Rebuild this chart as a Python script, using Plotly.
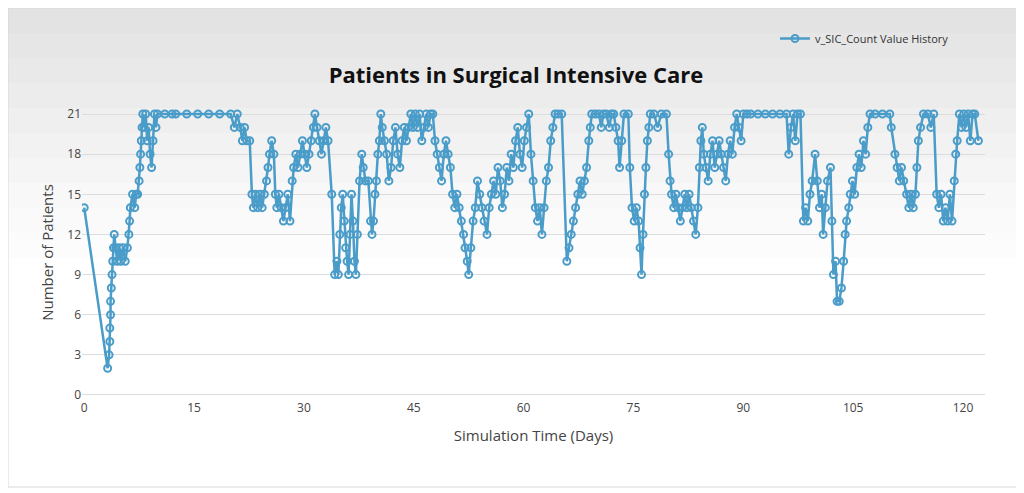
import plotly.graph_objects as go

days = [0, 3.2, 3.4, 3.5, 3.5, 3.6, 3.6, 3.7, 3.8, 3.9, 4.0, 4.1, 4.3, 4.5, 4.8, 5.0, 5.3, 5.6, 5.9,
        6.1, 6.2, 6.3, 6.6, 6.9, 7.1, 7.3, 7.5, 7.6, 7.7, 7.8, 7.9, 8.0, 8.2, 8.4, 8.6, 8.8, 9.0, 9.2,
        9.4, 9.6, 9.8, 10.0, 11, 12, 12.5, 14, 15.5, 17, 18.5, 20, 20.5, 20.9, 21.3, 21.6, 21.9, 22.2,
        22.6, 22.9, 23.1, 23.4, 23.7, 24.0, 24.3, 24.6, 24.9, 25.1, 25.3, 25.6, 25.9, 26.1, 26.3, 26.6,
        26.9, 27.2, 27.5, 27.8, 28.1, 28.4, 28.6, 28.9, 29.2, 29.5, 29.8, 30.1, 30.4, 30.7, 31.0, 31.3,
        31.5, 31.8, 32.1, 32.4, 32.7, 33.0, 33.3, 33.8, 34.2, 34.5, 34.7, 34.9, 35.1, 35.3, 35.5, 35.7,
        35.9, 36.1, 36.3, 36.5, 36.7, 36.9, 37.1, 37.3, 37.6, 37.9, 38.1, 38.4, 38.8, 39.1, 39.3, 39.5,
        39.7, 39.9, 40.1, 40.3, 40.5, 40.7,
        41.0, 41.3, 41.6, 41.9, 42.2, 42.5, 42.8, 43.1, 43.4, 43.7, 44.0, 44.3, 44.6, 44.9, 45.2, 45.5,
        45.8, 46.1, 46.4, 46.7, 47.0, 47.3, 47.6, 47.9, 48.2, 48.5, 48.8, 49.1, 49.4, 49.7, 50.0, 50.3,
        50.6, 50.9, 51.2, 51.5, 51.8, 52.0, 52.3, 52.5, 52.8, 53.1, 53.4, 53.7, 54.0, 54.3, 54.6, 55.0,
        55.3, 55.6, 55.9, 56.2, 56.5, 56.8, 57.1, 57.4, 57.7, 58.0, 58.3, 58.6, 58.9, 59.2, 59.5, 59.8,
        60.1, 60.4, 60.7, 61.0, 61.3, 61.6, 61.9, 62.2, 62.5, 62.8, 63.1, 63.4, 63.7, 64.0, 64.3, 64.7,
        65.2, 65.9, 66.2, 66.5, 66.8, 67.1, 67.4, 67.7, 68.0, 68.3, 68.6, 68.9, 69.1, 69.3, 69.8, 70.3,
        70.6, 70.9, 71.3, 71.7, 72.0, 72.3, 72.6, 72.9, 73.1, 73.4, 73.7, 74.3, 74.5, 74.8, 75.1, 75.4,
        75.7, 75.9, 76.1, 76.3, 76.5, 76.7, 76.9, 77.1, 77.3, 77.8, 78.3, 78.8, 79.5, 79.8, 80.0, 80.2,
        80.5, 80.8, 81.1, 81.4, 81.7, 82.0, 82.3, 82.6, 82.9, 83.2, 83.5, 83.8, 84.0, 84.2, 84.4, 84.6,
        84.9, 85.2, 85.5, 85.8, 86.1, 86.4, 86.7, 87.0, 87.3, 87.6, 87.9, 88.2, 88.5, 88.8, 89.1, 89.4,
        89.7, 90.0, 90.5, 91.0, 92.0, 93.0, 94.0, 95.0, 95.9, 96.2, 96.5, 96.8, 97.1, 97.4, 97.8, 98.2,
        98.5, 98.8, 99.1, 99.4, 99.8, 100.1, 100.4, 100.7, 100.9, 101.2, 101.5, 101.9, 102.1, 102.3,
        102.6, 102.8, 103.1, 103.4, 103.7, 103.9, 104.1, 104.4, 104.6, 104.9, 105.2, 105.5, 105.8,
        106.1, 106.4, 106.7, 107.0, 107.3, 108.0, 109.0, 110.0, 110.2, 110.7, 111.0, 111.3, 111.6,
        111.9, 112.3, 112.6, 112.9, 113.2, 113.5, 113.7, 113.9, 114.2, 114.6, 115.2, 115.6, 116.0,
        116.4, 116.7, 117.0, 117.3, 117.6, 117.9, 118.2, 118.5, 118.8, 119.0, 119.2, 119.5, 119.8,
        120.1, 120.4, 120.7, 121.0, 121.3, 121.6, 122.1]

patients = [14, 2, 3, 4, 5, 6, 7, 8, 9, 10, 11, 12, 11, 10, 11, 10, 11, 10, 11,
            12, 13, 14, 15, 14, 15, 15, 16, 17, 18, 19, 20, 21, 20, 21, 19, 20, 18, 17,
            19, 21, 20, 21, 21, 21, 21, 21, 21, 21, 21, 21, 20, 21, 20, 19, 20, 19,
            19, 15, 14, 15, 14, 15, 14, 15, 16, 17, 18, 19, 18, 15, 14, 15,
            14, 13, 14, 15, 13, 16, 17, 18, 17, 18, 19, 18, 17, 18, 19, 20,
            21, 20, 19, 18, 19, 20, 19, 15, 9, 10, 9, 12, 14, 15, 13, 11,
            10, 9, 12, 15, 13, 10, 9, 12, 16, 18, 17, 16, 16, 13, 12, 13,
            15, 16, 18, 19, 21, 20,
            19, 18, 16, 17, 19, 20, 18, 17, 19, 20, 19, 20, 21, 20, 21, 20,
            21, 19, 20, 21, 20, 21, 21, 19, 18, 17, 16, 18, 19, 18, 17, 15,
            14, 15, 14, 13, 12, 11, 10, 9, 11, 13, 14, 16, 15, 14, 13, 12,
            14, 15, 16, 15, 17, 16, 14, 15, 17, 16, 18, 17, 19, 20, 18, 17,
            19, 20, 21, 18, 16, 14, 13, 14, 12, 14, 16, 17, 19, 20, 21, 21,
            21, 10, 11, 12, 13, 14, 15, 16, 15, 16, 17, 19, 20, 21, 21, 21,
            20, 21, 21, 20, 21, 21, 20, 19, 17, 19, 21, 21, 17, 14, 13, 14,
            13, 11, 9, 12, 15, 17, 19, 20, 21, 21, 20, 21, 21, 18, 16, 15,
            14, 15, 14, 13, 14, 15, 14, 15, 14, 13, 12, 14, 17, 19, 20, 18,
            17, 16, 18, 19, 17, 18, 19, 18, 17, 16, 18, 19, 18, 20, 21, 20,
            19, 21, 21, 21, 21, 21, 21, 21, 21, 18, 20, 21, 19, 21, 21, 13,
            14, 13, 15, 16, 18, 16, 14, 15, 12, 14, 16, 17, 13, 9,
            10, 7, 7, 8, 10, 12, 13, 14, 15, 16, 15, 17, 18,
            17, 19, 18, 20, 21, 21, 21, 21, 20, 18, 17, 16, 17,
            16, 15, 14, 15, 14, 15, 17, 19, 20, 21, 21, 20, 21,
            15, 14, 15, 13, 14, 13, 15, 13, 16, 18, 19, 21, 20,
            21, 20, 21, 19, 21, 21, 19]

x_ticks = [0, 15, 30, 45, 60, 75, 90, 105, 120]
y_ticks = [0, 3, 6, 9, 12, 15, 18, 21]

# the page has an 8px body margin, so figure pixels = screen pixels - 8
OFF = 8
W, H = 1016, 485
L, R, T, B = 82 - OFF, 985 - OFF, 106 - OFF, 399 - OFF


def px(x, y):
    # screen pixel -> paper coordinates
    x, y = x - OFF, y - OFF
    return (x - L) / (R - L), (B - y) / (B - T)


blue = "#4a9cc9"
fig = go.Figure()
fig.add_trace(go.Scatter(
    x=days, y=patients, mode="lines+markers", name="v_SIC_Count Value History",
    line=dict(color=blue, width=2.5),
    marker=dict(symbol="circle-open", size=7, color=blue, line=dict(width=2, color=blue)),
))

shapes = []
# light grey gradient at the top of the card
grays = ["#e3e3e3", "#e6e6e6", "#e9e9e9", "#ececec", "#efefef", "#f2f2f2", "#f5f5f5",
         "#f8f8f8", "#fafafa", "#fcfcfc"]
for i, g in enumerate(grays):
    x0, y0 = px(8, 8 + i * 25)
    x1, y1 = px(1016, 8 + (i + 1) * 25)
    shapes.append(dict(type="rect", xref="paper", yref="paper", x0=x0, y0=y0, x1=x1, y1=y1,
                       fillcolor=g, line_width=0, layer="below"))
x0, y0 = px(8, 8)
x1, y1 = px(1017, 487)
shapes.append(dict(type="rect", xref="paper", yref="paper", x0=x0, y0=y0, x1=x1, y1=y1,
                   line=dict(color="#d8d8d8", width=1), layer="below"))

lx, ly = px(775, 24)
fig.update_layout(
    width=W, height=H,
    margin=dict(l=L, r=W - R, t=T, b=H - B, autoexpand=False),
    paper_bgcolor="white", plot_bgcolor="rgba(0,0,0,0)",
    font=dict(family="Open Sans, DejaVu Sans, sans-serif", color="#444"),
    title=dict(text="<b>Patients in Surgical Intensive Care</b>", x=0.5, xanchor="center",
               y=1 - (75 - OFF) / H, yanchor="middle", font=dict(size=22, color="#111")),
    showlegend=True,
    legend=dict(x=lx, y=ly, xanchor="left", yanchor="top", bgcolor="rgba(0,0,0,0)",
                font=dict(size=11, color="#333")),
    shapes=shapes,
)
fig.update_xaxes(range=[-0.3, 123], tickvals=x_ticks, showgrid=False, zeroline=False,
                 showline=False, ticks="", tickfont=dict(size=12, color="#444"), automargin=False,
                 title=dict(text="Simulation Time (Days)", font=dict(size=15, color="#444")))
fig.update_yaxes(range=[-0.3, 21.6], tickvals=y_ticks, showgrid=True, gridcolor="#dcdcdc",
                 zeroline=False, showline=False, ticks="", tickfont=dict(size=12, color="#444"),
                 automargin=False,
                 title=dict(text="Number of Patients", font=dict(size=15, color="#444"), standoff=10))

fig.write_html("out.html")
